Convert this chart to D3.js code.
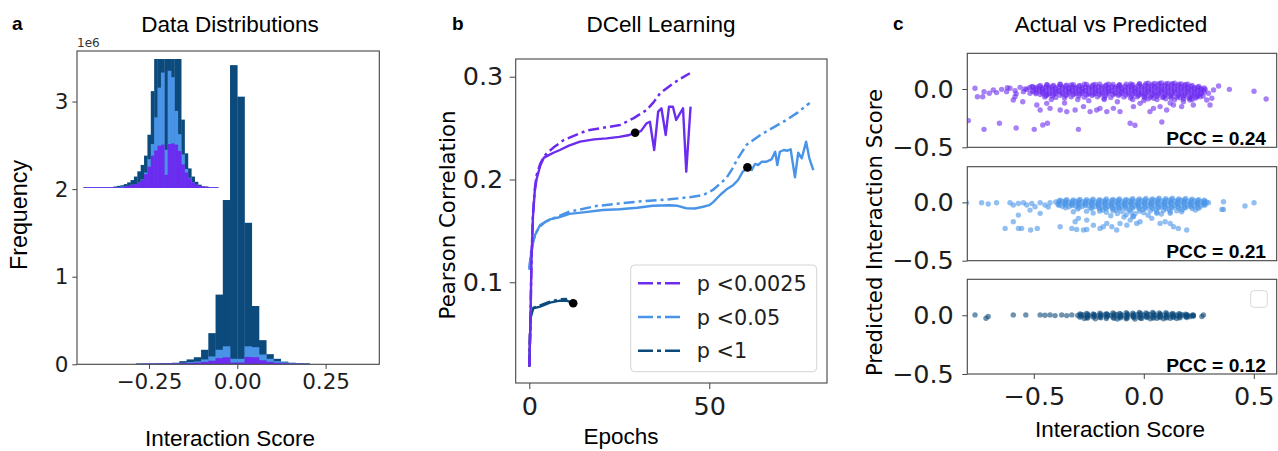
<!DOCTYPE html>
<html>
<head>
<meta charset="utf-8">
<script src="https://cdn.jsdelivr.net/npm/d3@7"></script>
<style>
  body { margin: 0; background: #fff; }
  svg { display: block; }
</style>
</head>
<body>
<svg id="fig" width="1278" height="451"></svg>
<script>
// ------------------------------------------------------------------
// Panel a: interaction-score histograms (frequency in units of 1e6)
// ------------------------------------------------------------------
const histBinWidth = 0.0205;
const histFirstBin = -14;            // left edge of bin i = (histFirstBin + i) * histBinWidth
const countsAll   = [0.002, 0.003, 0.004, 0.006, 0.008, 0.012, 0.030, 0.050, 0.075, 0.160, 0.350, 0.790,
                     1.870, 3.410, 3.050, 1.610, 0.660, 0.270, 0.110, 0.057, 0.025, 0.012, 0.007, 0.004];
const countsP05   = [0.002, 0.002, 0.003, 0.004, 0.006, 0.008, 0.012, 0.020, 0.027, 0.050, 0.084, 0.160,
                     0.200, 0.057, 0.057, 0.200, 0.190, 0.106, 0.057, 0.030, 0.018, 0.010, 0.006, 0.004];
const countsP0025 = [0.001, 0.002, 0.002, 0.003, 0.004, 0.005, 0.007, 0.010, 0.014, 0.022, 0.035, 0.065,
                     0.075, 0.015, 0.015, 0.078, 0.075, 0.040, 0.022, 0.012, 0.007, 0.004, 0.002, 0.001];

// inset: same scores, finer bins, y zoomed to the low counts
const insetRange = [-0.29, 0.21];
const insetAll = [0.0006, 0.0006, 0.0006, 0.0006, 0.0006, 0.0006, 0.0006, 0.001, 0.001, 0.002,
                  0.003, 0.004, 0.006, 0.009, 0.013, 0.019, 0.028, 0.039, 0.055, 0.091,
                  0.166, 0.450, 0.900, 1.700, 2.300, 2.200, 1.600, 0.800, 0.380, 0.117,
                  0.059, 0.033, 0.019, 0.010, 0.005, 0.002, 0.002, 0.0006, 0.0006, 0.0006];
const insetP05 = [0.0005, 0.0005, 0.0005, 0.0005, 0.0005, 0.0005, 0.0005, 0.0005, 0.0005, 0.0005,
                  0.001, 0.002, 0.002, 0.003, 0.005, 0.006, 0.009, 0.014, 0.026, 0.049,
                  0.075, 0.121, 0.172, 0.198, 0.065, 0.201, 0.190, 0.132, 0.092, 0.057,
                  0.032, 0.017, 0.009, 0.005, 0.002, 0.001, 0.0005, 0.0005, 0.0005, 0.0005];
const insetP0025 = [0.0006, 0.0006, 0.0006, 0.0006, 0.0006, 0.0006, 0.0006, 0.0006, 0.0006, 0.0006,
                    0.0006, 0.0006, 0.002, 0.003, 0.005, 0.006, 0.009, 0.013, 0.023, 0.036,
                    0.055, 0.064, 0.072, 0.074, 0.022, 0.075, 0.076, 0.074, 0.063, 0.040,
                    0.026, 0.016, 0.009, 0.005, 0.003, 0.002, 0.001, 0.0006, 0.0006, 0.0006];

const histTicksY = [0, 1, 2, 3];
const histTickLabelsY = ["0", "1", "2", "3"];
const histTicksX = [-0.25, 0, 0.25];
const histTickLabelsX = ["\u22120.25", "0.00", "0.25"];

// ------------------------------------------------------------------
// Panel b: DCell learning curves, [epoch, Pearson r]
// ------------------------------------------------------------------
const seriesNames = ["p <0.0025", "p <0.05", "p <1"];
const curveP0025Dash = [[0,0.018],[0.3,0.060],[0.6,0.120],[1,0.165],[1.5,0.190],[2,0.204],[3,0.215],[4,0.222],
  [5,0.226],[6.7,0.231],[9.4,0.238],[12,0.242],[15.9,0.2475],[20,0.250],[25.2,0.253],[28.9,0.2595],
  [32.6,0.2676],[34.5,0.275],[36.3,0.2838],[40,0.2936],[42,0.298],[44.6,0.3033]];
const curveP0025Solid = [[0,0.018],[0.3,0.060],[0.6,0.120],[1,0.163],[1.5,0.188],[2,0.200],[3,0.213],[4,0.221],
  [5,0.223],[6.7,0.226],[8.5,0.2287],[11,0.233],[14.1,0.2368],[18,0.239],[21.5,0.240],[25,0.2415],[27.5,0.243],
  [29.4,0.2455],[31,0.247],[32.6,0.2547],[33.5,0.2562],[34.7,0.2287],[35.8,0.266],[36.7,0.2693],[37.9,0.2433],
  [38.8,0.2708],[39.9,0.2708],[40.8,0.2579],[42.7,0.2693],[43.6,0.2076],[44.8,0.2708]];
const curveP05Dash = [[0,0.1136],[0.5,0.130],[1.1,0.141],[2,0.149],[2.9,0.154],[4.5,0.159],[6.6,0.1622],
  [11.2,0.1687],[18.6,0.1742],[29.8,0.1784],[39,0.1807],[45,0.183],[48.3,0.1849],[51,0.1898],[53,0.196],
  [54.7,0.2011],[56.7,0.212],[57.5,0.218],[59.5,0.229],[60.3,0.2336],[64.1,0.243],[67,0.249],[71,0.257],
  [74.5,0.265],[77.9,0.2745]];
const curveP05Solid = [[0,0.112],[0.5,0.128],[1,0.138],[1.6,0.146],[3,0.1557],[3.8,0.1574],[5.75,0.1612],
  [8,0.163],[11.2,0.1665],[15,0.168],[20.4,0.1703],[25,0.171],[30,0.1725],[34.3,0.1745],[39,0.175],[41,0.1745],
  [43.6,0.172],[46,0.1718],[48.3,0.1735],[50,0.175],[51.1,0.178],[53,0.1849],[54.8,0.1904],[56.7,0.1947],
  [58,0.1995],[59.3,0.2076],[60.6,0.2118],[61.8,0.2092],[62.7,0.2151],[63.6,0.2141],[64.6,0.2173],[65.9,0.2173],
  [67.3,0.2196],[68.3,0.227],[68.9,0.2141],[69.6,0.227],[70.7,0.2287],[71.7,0.228],[72.6,0.2294],[73.8,0.2021],
  [74.7,0.226],[75.7,0.2206],[76.9,0.2368],[77.8,0.2206],[78.9,0.2092]];
const curveP1Dash = [[0,0.018],[0.2,0.050],[0.4,0.068],[1.1,0.075],[3,0.0775],[5.75,0.0812],[8.5,0.0834],[10.5,0.0838]];
const curveP1Solid = [[0,0.018],[0.2,0.048],[0.4,0.066],[1.1,0.0747],[3,0.0763],[5.75,0.0802],[8.5,0.0821],
  [10.4,0.0821],[12.2,0.0796]];
const bestEpochs = [29.4, 60.6, 12.2];

const lrTicksY = [0.1, 0.2, 0.3];
const lrTickLabelsY = ["0.1", "0.2", "0.3"];
const lrTicksX = [0, 50];
const lrTickLabelsX = ["0", "50"];

// ------------------------------------------------------------------
// Panel c: actual vs predicted interaction scores, [actual, predicted]
// ------------------------------------------------------------------
const pccValues = [0.24, 0.21, 0.12];

const predP0025 = [
  [-0.44,0.036],[-0.38,0.040],[-0.33,0.034],[-0.27,0.042],[-0.22,0.038],[-0.16,0.040],[-0.11,0.036],[-0.06,0.044],
  [-0.02,0.046],[0.02,0.050],[0.05,0.047],[0.08,0.052],[0.11,0.048],[0.14,0.050],[0.17,0.044],[0.20,0.040],
  [-0.47,0.028],[-0.44,0.035],[-0.41,0.030],[-0.38,0.038],[-0.35,0.032],[-0.32,0.036],[-0.29,0.030],[-0.26,0.038],
  [-0.23,0.034],[-0.20,0.040],[-0.17,0.035],[-0.14,0.038],[-0.11,0.033],[-0.08,0.040],[-0.05,0.036],[-0.02,0.042],
  [0.01,0.045],[0.04,0.040],[0.07,0.048],[0.10,0.043],[0.13,0.046],[0.16,0.040],[0.19,0.038],[0.22,0.030],[0.25,0.022],
  [-0.505,0.020],[-0.475,0.024],[-0.445,0.018],[-0.415,0.023],[-0.385,0.019],[-0.355,0.025],[-0.325,0.020],[-0.295,0.024],
  [-0.265,0.018],[-0.235,0.025],[-0.205,0.021],[-0.175,0.026],[-0.145,0.022],[-0.115,0.027],[-0.085,0.023],[-0.055,0.028],
  [-0.025,0.025],[0.005,0.031],[0.035,0.028],[0.065,0.034],[0.095,0.030],[0.125,0.035],[0.155,0.029],[0.185,0.030],
  [0.215,0.022],[0.245,0.016],[0.275,0.008],
  [-0.52,0.010],[-0.49,0.014],[-0.46,0.008],[-0.43,0.015],[-0.40,0.010],[-0.37,0.016],[-0.34,0.008],[-0.31,0.014],
  [-0.28,0.010],[-0.25,0.016],[-0.22,0.012],[-0.19,0.018],[-0.16,0.012],[-0.13,0.016],[-0.10,0.010],[-0.07,0.018],
  [-0.04,0.014],[-0.01,0.020],[0.02,0.022],[0.05,0.018],[0.08,0.024],[0.11,0.020],[0.14,0.025],[0.17,0.018],
  [0.20,0.015],[0.23,0.010],[0.26,0.005],
  [-0.49,0.002],[-0.46,-0.002],[-0.43,0.003],[-0.40,-0.001],[-0.37,0.004],[-0.34,0.000],[-0.31,0.005],[-0.28,0.001],
  [-0.25,0.004],[-0.22,-0.001],[-0.19,0.005],[-0.16,0.002],[-0.13,0.006],[-0.10,0.002],[-0.07,0.007],[-0.04,0.004],
  [-0.01,0.008],[0.02,0.006],[0.05,0.010],[0.08,0.007],[0.11,0.011],[0.14,0.006],[0.17,0.009],[0.20,0.003],
  [0.23,0.001],[0.26,-0.004],
  [-0.50,-0.010],[-0.475,-0.005],[-0.445,-0.012],[-0.415,-0.006],[-0.385,-0.012],[-0.355,-0.004],[-0.325,-0.010],
  [-0.295,-0.006],[-0.265,-0.012],[-0.235,-0.004],[-0.205,-0.010],[-0.175,-0.003],[-0.145,-0.010],[-0.115,-0.004],
  [-0.085,-0.008],[-0.055,-0.002],[-0.025,-0.006],[0.005,0.000],[0.035,-0.004],[0.065,0.002],[0.095,-0.004],
  [0.125,0.003],[0.155,-0.003],[0.185,0.000],[0.215,-0.006],[0.245,-0.010],[0.27,-0.014],
  [-0.505,-0.022],[-0.475,-0.018],[-0.445,-0.023],[-0.415,-0.017],[-0.385,-0.021],[-0.355,-0.016],[-0.325,-0.022],
  [-0.295,-0.017],[-0.265,-0.020],[-0.235,-0.015],[-0.205,-0.021],[-0.175,-0.016],[-0.145,-0.020],[-0.115,-0.014],
  [-0.085,-0.019],[-0.055,-0.013],[-0.025,-0.018],[0.005,-0.012],[0.035,-0.016],[0.065,-0.010],[0.095,-0.015],
  [0.125,-0.010],[0.155,-0.014],[0.185,-0.011],[0.215,-0.017],[0.245,-0.020],[0.275,-0.024],
  [-0.49,-0.030],[-0.46,-0.026],[-0.43,-0.034],[-0.40,-0.028],[-0.37,-0.032],[-0.34,-0.024],[-0.31,-0.030],
  [-0.28,-0.026],[-0.25,-0.034],[-0.22,-0.028],[-0.19,-0.030],[-0.16,-0.024],[-0.13,-0.032],[-0.10,-0.026],
  [-0.07,-0.030],[-0.04,-0.022],[-0.01,-0.028],[0.02,-0.020],[0.05,-0.026],[0.08,-0.018],[0.11,-0.024],
  [0.14,-0.020],[0.17,-0.026],[0.20,-0.022],[0.23,-0.030],[0.26,-0.034],
  [-0.49,-0.040],[-0.46,-0.036],[-0.43,-0.042],[-0.40,-0.038],[-0.37,-0.041],[-0.34,-0.035],[-0.31,-0.040],
  [-0.28,-0.036],[-0.25,-0.042],[-0.22,-0.038],[-0.19,-0.040],[-0.16,-0.035],[-0.13,-0.041],[-0.10,-0.036],
  [-0.07,-0.040],[-0.04,-0.034],[-0.01,-0.038],[0.02,-0.032],[0.05,-0.037],[0.08,-0.030],[0.11,-0.035],
  [0.14,-0.032],[0.17,-0.037],[0.20,-0.034],[0.23,-0.040],[0.26,-0.042],
  [-0.47,-0.048],[-0.44,-0.052],[-0.41,-0.046],[-0.38,-0.054],[-0.35,-0.048],[-0.32,-0.050],[-0.29,-0.044],
  [-0.26,-0.052],[-0.23,-0.046],[-0.20,-0.050],[-0.17,-0.044],[-0.14,-0.050],[-0.11,-0.046],[-0.08,-0.052],
  [-0.05,-0.044],[-0.02,-0.048],[0.01,-0.042],[0.04,-0.048],[0.07,-0.040],[0.10,-0.046],[0.13,-0.042],
  [0.16,-0.048],[0.19,-0.044],[0.22,-0.052],[0.25,-0.050],
  [-0.445,-0.058],[-0.415,-0.062],[-0.355,-0.058],[-0.295,-0.060],[-0.235,-0.056],[-0.175,-0.060],[-0.115,-0.056],
  [-0.055,-0.060],[-0.025,-0.056],[0.005,-0.054],[0.035,-0.058],[0.065,-0.052],[0.095,-0.058],[0.125,-0.054],
  [0.155,-0.058],[0.185,-0.055],[0.215,-0.060],[0.245,-0.058],
  [-0.45,-0.068],[-0.40,-0.072],[-0.33,-0.066],[-0.27,-0.070],[-0.21,-0.066],[-0.15,-0.072],[-0.09,-0.068],
  [-0.03,-0.066],[0.00,-0.064],[0.03,-0.070],[0.06,-0.062],[0.09,-0.068],[0.12,-0.064],[0.15,-0.070],
  [0.18,-0.066],[0.21,-0.072],[0.24,-0.068],
  [0.005,-0.076],[0.045,-0.080],[0.085,-0.074],[0.125,-0.078],[0.165,-0.075],[0.205,-0.080],[0.235,-0.078],
  [-0.06,-0.078],[-0.18,-0.080],[-0.36,-0.078],
  [0.02,-0.085],[0.06,-0.090],[0.10,-0.084],[0.14,-0.092],[0.18,-0.086],[0.22,-0.090],
  [-0.767,0.006],[-0.756,-0.066],[-0.732,-0.066],[-0.726,-0.023],[-0.702,-0.037],[-0.684,-0.009],[-0.669,-0.031],
  [-0.646,-0.003],[-0.623,-0.023],[-0.608,0.006],[-0.585,-0.014],[-0.562,0.014],[-0.547,-0.023],[-0.532,-0.003],
  [-0.517,-0.037],[-0.509,0.020],[-0.620,0.010],[-0.580,-0.040],[-0.540,0.000],
  [0.279,-0.003],[0.294,-0.037],[0.317,-0.009],[0.340,0.026],[0.389,-0.003],[0.501,-0.020],[0.556,-0.086],
  [0.309,-0.080],[0.270,-0.060],
  [-0.593,-0.094],[-0.585,-0.066],[-0.486,-0.137],[-0.471,-0.180],[-0.441,-0.123],[-0.426,-0.166],[-0.380,-0.180],
  [-0.350,-0.194],[-0.312,-0.180],[-0.274,-0.151],[-0.244,-0.194],[-0.214,-0.180],[-0.199,-0.166],[-0.168,-0.194],
  [-0.138,-0.166],[-0.108,-0.194],[-0.047,-0.151],[-0.017,-0.123],[0.028,-0.194],[0.044,-0.166],[0.074,-0.151],
  [0.104,-0.180],[0.135,-0.137],[0.172,-0.151],[0.210,-0.094],[0.225,-0.137],[0.256,-0.066],[0.286,-0.094],
  [0.301,-0.137],[-0.55,-0.110],[-0.36,-0.120],[-0.25,-0.100],[-0.12,-0.110],[0.00,-0.100],[0.12,-0.120],
  [0.18,-0.110],[-0.42,-0.090],[-0.30,-0.090],[-0.18,-0.090],[-0.05,-0.090],
  [-0.797,-0.271],[-0.726,-0.346],[-0.656,-0.294],[-0.580,-0.334],[-0.498,-0.346],[-0.459,-0.309],[-0.438,-0.294],
  [-0.297,-0.346],[-0.062,-0.294],[-0.040,-0.311],[0.082,-0.283]
];

const predP05 = [
  [-0.38,0.018],[-0.35,0.024],[-0.32,0.020],[-0.29,0.026],[-0.26,0.022],[-0.23,0.028],[-0.20,0.024],[-0.17,0.030],
  [-0.14,0.026],[-0.11,0.030],[-0.08,0.026],[-0.05,0.032],[-0.02,0.030],[0.01,0.034],[0.04,0.030],[0.07,0.036],
  [0.10,0.032],[0.13,0.036],[0.16,0.030],[0.19,0.034],[0.22,0.028],[0.25,0.024],[0.275,0.018],
  [-0.385,0.012],[-0.355,0.016],[-0.325,0.011],[-0.295,0.017],[-0.265,0.013],[-0.235,0.018],[-0.205,0.014],
  [-0.175,0.019],[-0.145,0.016],[-0.115,0.021],[-0.085,0.017],[-0.055,0.022],[-0.025,0.019],[0.005,0.024],
  [0.035,0.020],[0.065,0.025],[0.095,0.021],[0.125,0.025],[0.155,0.020],[0.185,0.024],[0.215,0.018],
  [0.245,0.016],[0.275,0.010],
  [-0.40,0.004],[-0.37,0.008],[-0.34,0.002],[-0.31,0.008],[-0.28,0.004],[-0.25,0.010],[-0.22,0.004],[-0.19,0.010],
  [-0.16,0.006],[-0.13,0.012],[-0.10,0.006],[-0.07,0.012],[-0.04,0.008],[-0.01,0.014],[0.02,0.010],[0.05,0.016],
  [0.08,0.010],[0.11,0.016],[0.14,0.012],[0.17,0.016],[0.20,0.010],[0.23,0.012],[0.26,0.006],[0.285,0.004],
  [-0.385,-0.006],[-0.355,-0.002],[-0.325,-0.007],[-0.295,-0.001],[-0.265,-0.005],[-0.235,0.000],[-0.205,-0.005],
  [-0.175,0.001],[-0.145,-0.004],[-0.115,0.002],[-0.085,-0.003],[-0.055,0.003],[-0.025,-0.002],[0.005,0.004],
  [0.035,0.000],[0.065,0.005],[0.095,0.000],[0.125,0.006],[0.155,0.001],[0.185,0.005],[0.215,0.000],
  [0.245,-0.002],[0.275,-0.004],
  [-0.39,-0.016],[-0.36,-0.012],[-0.33,-0.018],[-0.30,-0.012],[-0.27,-0.016],[-0.24,-0.010],[-0.21,-0.016],
  [-0.18,-0.010],[-0.15,-0.014],[-0.12,-0.008],[-0.09,-0.014],[-0.06,-0.008],[-0.03,-0.012],[0.00,-0.006],
  [0.03,-0.010],[0.06,-0.004],[0.09,-0.010],[0.12,-0.004],[0.15,-0.008],[0.18,-0.004],[0.21,-0.010],
  [0.24,-0.008],[0.27,-0.012],
  [-0.385,-0.026],[-0.355,-0.023],[-0.325,-0.027],[-0.295,-0.022],[-0.265,-0.026],[-0.235,-0.021],[-0.205,-0.025],
  [-0.175,-0.020],[-0.145,-0.024],[-0.115,-0.019],[-0.085,-0.023],[-0.055,-0.018],[-0.025,-0.022],[0.005,-0.017],
  [0.035,-0.021],[0.065,-0.016],[0.095,-0.020],[0.125,-0.015],[0.155,-0.019],[0.185,-0.016],[0.215,-0.020],
  [0.245,-0.019],[0.275,-0.022],
  [-0.37,-0.034],[-0.34,-0.038],[-0.31,-0.032],[-0.28,-0.036],[-0.25,-0.030],[-0.22,-0.036],[-0.19,-0.030],
  [-0.16,-0.034],[-0.13,-0.028],[-0.10,-0.034],[-0.07,-0.028],[-0.04,-0.032],[-0.01,-0.026],[0.02,-0.030],
  [0.05,-0.024],[0.08,-0.030],[0.11,-0.024],[0.14,-0.028],[0.17,-0.024],[0.20,-0.030],[0.23,-0.028],[0.26,-0.032],
  [-0.355,-0.046],[-0.295,-0.044],[-0.235,-0.046],[-0.205,-0.042],[-0.175,-0.046],[-0.145,-0.041],[-0.115,-0.045],
  [-0.085,-0.040],[-0.055,-0.044],[-0.025,-0.039],[0.005,-0.043],[0.035,-0.038],[0.065,-0.042],[0.095,-0.037],
  [0.125,-0.041],[0.155,-0.037],[0.185,-0.041],[0.215,-0.038],[0.245,-0.042],
  [-0.30,-0.056],[-0.24,-0.052],[-0.20,-0.058],[-0.17,-0.050],[-0.14,-0.056],[-0.11,-0.050],[-0.08,-0.056],
  [-0.05,-0.048],[-0.02,-0.054],[0.01,-0.048],[0.04,-0.052],[0.07,-0.046],[0.10,-0.052],[0.13,-0.046],
  [0.16,-0.050],[0.19,-0.046],[0.22,-0.052],[0.25,-0.050],
  [-0.185,-0.066],[-0.125,-0.064],[-0.065,-0.066],[-0.005,-0.062],[0.055,-0.064],[0.115,-0.060],[0.175,-0.063],
  [0.235,-0.066],
  [-0.20,-0.075],[-0.17,-0.085],[-0.14,-0.072],[-0.12,-0.095],[-0.10,-0.078],[-0.08,-0.105],[-0.06,-0.082],
  [-0.04,-0.098],[-0.02,-0.075],[0.00,-0.088],[0.03,-0.072],[0.06,-0.085],[0.09,-0.070],[0.12,-0.080],
  [0.15,-0.072],[-0.15,-0.115],[-0.09,-0.125],[-0.05,-0.118],[0.02,-0.110],[0.08,-0.100],[-0.26,-0.075],
  [-0.32,-0.080],[-0.23,-0.092],
  [-0.805,-0.003],[-0.737,-0.003],[-0.707,-0.014],[-0.669,-0.003],[-0.608,-0.003],[-0.593,-0.023],[-0.570,-0.009],
  [-0.547,-0.003],[-0.532,-0.023],[-0.509,-0.009],[-0.494,-0.037],[-0.471,-0.003],[-0.449,-0.023],[-0.434,-0.040],
  [-0.426,-0.003],
  [0.294,-0.003],[0.362,0.006],[0.362,-0.060],[0.355,-0.060],[0.460,-0.031],[0.501,-0.003],[0.279,-0.020],
  [-0.630,-0.223],[-0.570,-0.223],[-0.555,-0.223],[-0.514,-0.237],[-0.484,-0.223],[-0.593,-0.166],[-0.570,-0.109],
  [-0.517,-0.066],[-0.471,-0.094],[-0.380,-0.209],[-0.327,-0.223],[-0.305,-0.232],[-0.274,-0.237],[-0.259,-0.232],
  [-0.312,-0.166],[-0.297,-0.137],[-0.259,-0.152],[-0.229,-0.195],[-0.199,-0.223],[-0.184,-0.209],[-0.168,-0.180],
  [-0.145,-0.209],[-0.123,-0.237],[-0.108,-0.180],[-0.077,-0.195],[-0.062,-0.152],[-0.047,-0.123],[-0.032,-0.180],
  [-0.017,-0.166],[0.036,-0.137],[0.059,-0.094],[0.074,-0.180],[0.097,-0.166],[0.120,-0.180],[0.135,-0.209],
  [0.157,-0.223],[0.195,-0.237],[0.120,-0.094],[0.172,-0.080]
];

const predP1 = [
  [-0.29,0.012],[-0.26,0.016],[-0.23,0.012],[-0.20,0.018],[-0.17,0.014],[-0.14,0.020],[-0.11,0.016],[-0.08,0.022],
  [-0.05,0.018],[-0.02,0.024],[0.01,0.020],[0.04,0.024],[0.07,0.020],[0.10,0.022],[0.13,0.016],[0.16,0.014],[0.19,0.010],
  [-0.285,0.006],[-0.255,0.009],[-0.225,0.005],[-0.195,0.010],[-0.165,0.007],[-0.135,0.012],[-0.105,0.008],
  [-0.075,0.013],[-0.045,0.010],[-0.015,0.015],[0.015,0.012],[0.045,0.015],[0.075,0.011],[0.105,0.013],
  [0.135,0.009],[0.165,0.008],[0.195,0.004],[0.225,0.002],
  [-0.30,-0.002],[-0.275,0.002],[-0.25,-0.002],[-0.225,0.003],[-0.20,-0.002],[-0.175,0.004],[-0.15,-0.001],
  [-0.125,0.004],[-0.10,0.000],[-0.075,0.005],[-0.05,0.001],[-0.025,0.006],[0.00,0.002],[0.025,0.006],[0.05,0.002],
  [0.075,0.006],[0.10,0.002],[0.125,0.004],[0.15,0.000],[0.175,0.002],[0.20,-0.002],[0.22,0.000],
  [-0.285,-0.009],[-0.255,-0.006],[-0.225,-0.010],[-0.195,-0.005],[-0.165,-0.009],[-0.135,-0.004],[-0.105,-0.008],
  [-0.075,-0.003],[-0.045,-0.007],[-0.015,-0.002],[0.015,-0.006],[0.045,-0.002],[0.075,-0.006],[0.105,-0.003],
  [0.135,-0.007],[0.165,-0.004],[0.195,-0.008],[0.225,-0.006],
  [-0.29,-0.016],[-0.26,-0.020],[-0.23,-0.014],[-0.20,-0.018],[-0.17,-0.014],[-0.14,-0.020],[-0.11,-0.014],
  [-0.08,-0.018],[-0.05,-0.012],[-0.02,-0.018],[0.01,-0.012],[0.04,-0.016],[0.07,-0.012],[0.10,-0.016],
  [0.13,-0.010],[0.16,-0.014],[0.19,-0.010],[0.21,-0.012],
  [-0.255,-0.024],[-0.195,-0.022],[-0.135,-0.025],[-0.105,-0.021],[-0.075,-0.024],[-0.045,-0.020],[-0.015,-0.023],
  [0.015,-0.020],[0.045,-0.023],[0.075,-0.019],[0.105,-0.022],[0.135,-0.019],[0.165,-0.022],[0.195,-0.020],
  [-0.27,-0.028],[-0.22,-0.030],[-0.17,-0.028],[-0.12,-0.032],[-0.08,-0.030],[-0.04,-0.032],[-0.01,-0.028],
  [0.03,-0.030],[0.06,-0.026],[0.09,-0.030],[0.12,-0.026],[0.15,-0.028],
  [-0.767,0.003],[-0.717,-0.026],[-0.707,-0.010],[-0.593,0.003],[-0.536,0.003],[-0.471,0.003],[-0.449,0.000],
  [-0.426,0.003],[-0.403,-0.003],[-0.373,0.003],[-0.350,-0.003],[-0.327,0.003],[0.225,-0.005],[0.271,0.003],
  [0.264,-0.010]
];

const scatterTicksY = [0, -0.5];
const scatterTickLabelsY = ["0.0", "\u22120.5"];
const scatterTicksX = [-0.5, 0, 0.5];
const scatterTickLabelsX = ["\u22120.5", "0.0", "0.5"];

// ------------------------------------------------------------------
const colors = ["#6c2cf0", "#4a94e8", "#0c4a7c"];       // p<0.0025, p<0.05, p<1
const TICK_FONT = "DejaVu Sans, sans-serif";
const HEAD_FONT = "Liberation Sans, Arial, Helvetica, sans-serif";
const FRAME = "#444";

const svg = d3.select("#fig");

function styleAxis(g, size) {
  g.select(".domain").remove();
  g.selectAll(".tick line").attr("stroke", FRAME).attr("stroke-width", 1);
  g.selectAll(".tick text").attr("font-family", TICK_FONT).attr("font-size", size).attr("fill", "#1e1e1e");
}

function frameRect(x0, x1, y0, y1) {
  svg.append("rect")
    .attr("x", x0).attr("y", y0).attr("width", x1 - x0).attr("height", y1 - y0)
    .attr("fill", "none").attr("stroke", FRAME).attr("stroke-width", 1.1);
}

function clipRect(id, x0, x1, y0, y1) {
  svg.append("clipPath").attr("id", id).append("rect")
    .attr("x", x0).attr("y", y0).attr("width", x1 - x0).attr("height", y1 - y0);
  return "url(#" + id + ")";
}

function headText(x, y, txt, size, weight, anchor) {
  svg.append("text").attr("x", x).attr("y", y).text(txt)
    .attr("font-family", HEAD_FONT).attr("font-size", size)
    .attr("font-weight", weight || "normal").attr("text-anchor", anchor || "middle").attr("fill", "#000");
}

// panel letters and titles
headText(12, 30, "a", 19, "bold", "start");
headText(452, 30, "b", 19, "bold", "start");
headText(893, 30, "c", 19, "bold", "start");
headText(230, 31.5, "Data Distributions", 22.5);
headText(661, 31.5, "DCell Learning", 22.5);
headText(1111, 31.5, "Actual vs Predicted", 22.5);

// ================== Panel a ==================
{
  const X0 = 77, X1 = 379.3, Y0 = 51, Y1 = 364.3;
  const x = d3.scaleLinear().domain([-0.4537, 0.402]).range([X0, X1]);
  const y = d3.scaleLinear().domain([0, 3.577]).range([Y1, Y0]);
  const clip = clipRect("clipA", X0, X1, Y0, Y1);
  const g = svg.append("g").attr("clip-path", clip);

  const histSets = [countsAll, countsP05, countsP0025];
  const colorIdx = [2, 1, 0];
  histSets.forEach((counts, s) => {
    g.append("g").selectAll("rect").data(counts).join("rect")
      .attr("x", (d, i) => x((histFirstBin + i) * histBinWidth))
      .attr("width", (d, i) => x((histFirstBin + i + 1) * histBinWidth) - x((histFirstBin + i) * histBinWidth) + 0.3)
      .attr("y", d => y(d) - 0.5)
      .attr("height", d => y(0) - y(d) + 0.5)
      .attr("fill", colors[colorIdx[s]]);
  });

  // zoomed-in inset of the low-frequency part
  const ix = d3.scaleLinear().domain(insetRange).range([83.3, 218.3]);
  const iy = d3.scaleLinear().domain([0, 0.222]).range([188, 59]);
  const iclip = clipRect("clipInset", 83.3, 218.6, 59, 188.6);
  const ig = svg.append("g").attr("clip-path", iclip);
  const iw = (insetRange[1] - insetRange[0]) / insetAll.length;
  [insetAll, insetP05, insetP0025].forEach((counts, s) => {
    ig.append("g").selectAll("rect").data(counts).join("rect")
      .attr("x", (d, i) => ix(insetRange[0] + i * iw))
      .attr("width", (d, i) => ix(insetRange[0] + (i + 1) * iw) - ix(insetRange[0] + i * iw) + 0.3)
      .attr("y", d => iy(d) - 0.4)
      .attr("height", d => iy(0) - iy(d) + 0.4)
      .attr("fill", colors[colorIdx[s]]);
  });

  const ay = svg.append("g").attr("transform", `translate(${X0},0)`)
    .call(d3.axisLeft(y).tickValues(histTicksY).tickFormat((d, i) => histTickLabelsY[i]).tickSize(4.7).tickPadding(4));
  styleAxis(ay, 21.5);
  const ax = svg.append("g").attr("transform", `translate(0,${Y1})`)
    .call(d3.axisBottom(x).tickValues(histTicksX).tickFormat((d, i) => histTickLabelsX[i]).tickSize(4.7).tickPadding(4.3));
  styleAxis(ax, 21.5);
  frameRect(X0, X1, Y0, Y1);

  svg.append("text").attr("x", X0).attr("y", 46.5).text("1e6")
    .attr("font-family", TICK_FONT).attr("font-size", 12).attr("fill", "#333");

  svg.append("text").attr("transform", "translate(27,215) rotate(-90)").text("Frequency")
    .attr("text-anchor", "middle").attr("font-family", HEAD_FONT).attr("font-size", 23.3).attr("fill", "#000");
  headText(230, 446, "Interaction Score", 22.5);
}

// ================== Panel b ==================
{
  const X0 = 515.7, X1 = 827, Y0 = 59, Y1 = 383;
  const x = d3.scaleLinear().domain([-3.78, 82.7]).range([X0, X1]);
  const y = d3.scaleLinear().domain([0.00204, 0.3172]).range([Y1, Y0]);
  const clip = clipRect("clipB", X0, X1, Y0, Y1);
  const g = svg.append("g").attr("clip-path", clip);
  const line = d3.line().x(d => x(d[0])).y(d => y(d[1]));
  const DASHDOT = "11,4,3,4";

  const solids = [curveP0025Solid, curveP05Solid, curveP1Solid];
  const dashes = [curveP0025Dash, curveP05Dash, curveP1Dash];
  [2, 1, 0].forEach(s => {
    g.append("path").datum(dashes[s]).attr("d", line)
      .attr("fill", "none").attr("stroke", colors[s]).attr("stroke-width", 2.5)
      .attr("stroke-dasharray", DASHDOT).attr("stroke-linejoin", "round");
    g.append("path").datum(solids[s]).attr("d", line)
      .attr("fill", "none").attr("stroke", colors[s]).attr("stroke-width", 2.4)
      .attr("stroke-linejoin", "round");
  });
  // best epoch of each model
  solids.forEach((ser, s) => {
    const best = ser.find(d => d[0] === bestEpochs[s]);
    g.append("circle").attr("cx", x(best[0])).attr("cy", y(best[1])).attr("r", 4.3).attr("fill", "#000");
  });

  const ay = svg.append("g").attr("transform", `translate(${X0},0)`)
    .call(d3.axisLeft(y).tickValues(lrTicksY).tickFormat((d, i) => lrTickLabelsY[i]).tickSize(6).tickPadding(6.4));
  styleAxis(ay, 25.5);
  const ax = svg.append("g").attr("transform", `translate(0,${Y1})`)
    .call(d3.axisBottom(x).tickValues(lrTicksX).tickFormat((d, i) => lrTickLabelsX[i]).tickSize(6).tickPadding(7.7));
  styleAxis(ax, 25.5);
  frameRect(X0, X1, Y0, Y1);

  // legend
  const lg = svg.append("g");
  lg.append("rect").attr("x", 630.7).attr("y", 265).attr("width", 186).attr("height", 106.7)
    .attr("rx", 4).attr("fill", "#fff").attr("fill-opacity", 0.85).attr("stroke", "#d4d4d4").attr("stroke-width", 1);
  seriesNames.forEach((name, s) => {
    const cy = 283.3 + s * 33.7;
    lg.append("line").attr("x1", 638).attr("x2", 680).attr("y1", cy).attr("y2", cy)
      .attr("stroke", colors[s]).attr("stroke-width", 2.5).attr("stroke-dasharray", "15,4,4,4");
    lg.append("text").attr("x", 696.7).attr("y", cy + 7.6).text(name)
      .attr("font-family", TICK_FONT).attr("font-size", 20.8).attr("fill", "#1e1e1e");
  });

  svg.append("text").attr("transform", "translate(454.5,215) rotate(-90)").text("Pearson Correlation")
    .attr("text-anchor", "middle").attr("font-family", TICK_FONT).attr("font-size", 21.3).attr("fill", "#000");
  headText(621, 444, "Epochs", 22.5);
}

// ================== Panel c ==================
{
  const X0 = 967.3, X1 = 1276.7;
  const rows = [[53.3, 147.3], [166.7, 260.7], [279.3, 374]];
  const x = d3.scaleLinear().domain([-0.802, 0.604]).range([X0, X1]);
  const sets = [predP0025, predP05, predP1];
  rows.forEach((r, k) => {
    const y = d3.scaleLinear().domain([-0.5, 0.306]).range([r[1], r[0]]);
    const clip = clipRect("clipC" + k, X0, X1, r[0], r[1]);
    const g = svg.append("g").attr("clip-path", clip);
    g.selectAll("circle").data(sets[k]).join("circle")
      .attr("cx", d => x(d[0])).attr("cy", d => y(d[1])).attr("r", 2.7)
      .attr("fill", colors[k]).attr("fill-opacity", 0.6);

    const ay = svg.append("g").attr("transform", `translate(${X0},0)`)
      .call(d3.axisLeft(y).tickValues(scatterTicksY).tickFormat((d, i) => scatterTickLabelsY[i]).tickSize(5).tickPadding(8.5));
    styleAxis(ay, 25.5);
    if (k === rows.length - 1) {
      const ax = svg.append("g").attr("transform", `translate(0,${r[1]})`)
        .call(d3.axisBottom(x).tickValues(scatterTicksX).tickFormat((d, i) => scatterTickLabelsX[i]).tickSize(5).tickPadding(7.5));
      styleAxis(ax, 25.5);
    }
    frameRect(X0, X1, r[0], r[1]);

    svg.append("text").attr("x", 1266).attr("y", r[1] - 2.3)
      .text("PCC = " + d3.format(".2f")(pccValues[k]))
      .attr("text-anchor", "end").attr("font-family", HEAD_FONT).attr("font-weight", "bold")
      .attr("font-size", 19.2).attr("fill", "#000");
  });
  // empty legend frame in the last subplot
  svg.append("rect").attr("x", 1250.7).attr("y", 290.7).attr("width", 16.6).attr("height", 16.6)
    .attr("rx", 3).attr("fill", "#fff").attr("stroke", "#d8d8d8").attr("stroke-width", 1);

  svg.append("text").attr("transform", "translate(882,232.5) rotate(-90)").text("Predicted Interaction Score")
    .attr("text-anchor", "middle").attr("font-family", TICK_FONT).attr("font-size", 21.2).attr("fill", "#000");
  headText(1120, 437, "Interaction Score", 22.5);
}
</script>
</body>
</html>
